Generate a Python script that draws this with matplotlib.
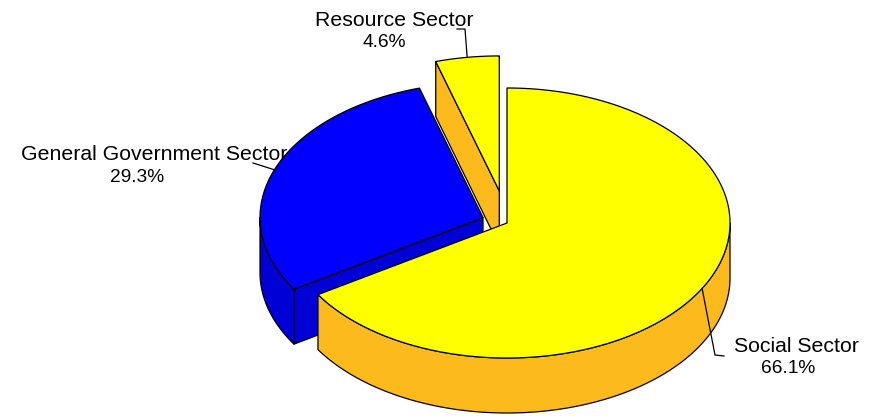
import numpy as np
import matplotlib
matplotlib.use("Agg")
import matplotlib.pyplot as plt
from matplotlib.patches import Polygon

# ---- data ----
sectors = ["Social Sector", "General Government Sector", "Resource Sector"]
shares = [66.1, 29.3, 4.6]
explode = [0.0, 0.115, 0.24]

# ---- style ----
top_colors = ["#FFFF00", "#0000FF", "#FFFF00"]
side_colors = ["#FDBA1C", "#0000D6", "#FDBA1C"]
CX, CY = 507.0, 223.0        # pie centre (pixel-like data coords)
RX, RY = 223.0, 135.0        # ellipse radii of top face
H = 55.0                     # thickness
START = 90.0                 # degrees, slices run clockwise

label_pos = {  # (x centre line1, baseline1, x centre line2, baseline2)
    "Social Sector": (796, 352, 788, 373),
    "General Government Sector": (154, 160, 137, 182),
    "Resource Sector": (394, 25.5, 384.5, 47),
}
leader_pts = {
    "Social Sector": [(715, 355), (724, 356)],
    "General Government Sector": [(253, 163)],
    "Resource Sector": [(465, 29), (457, 29)],
}

fig = plt.figure(figsize=(8.75, 4.16), dpi=100)
ax = fig.add_axes([0, 0, 1, 1])
ax.set_xlim(0, 875)
ax.set_ylim(416, 0)
ax.axis("off")

def P(c, a, dz=0.0, r=1.0):
    return (c[0] + RX * r * np.cos(a), c[1] - RY * r * np.sin(a) + dz)

total = sum(shares)
slices = []
ang = np.radians(START)
for name, v, ex, tc, sc in zip(sectors, shares, explode, top_colors, side_colors):
    span = 2 * np.pi * v / total
    a1 = ang                 # counter-clockwise end
    a0 = ang - span          # counter-clockwise start
    mid = 0.5 * (a0 + a1)
    c = (CX + RX * ex * np.cos(mid), CY - RY * ex * np.sin(mid))
    slices.append(dict(name=name, v=v, a0=a0, a1=a1, mid=mid, c=c, tc=tc, sc=sc))
    ang = a0

ekw = dict(edgecolor="black", linewidth=0.9, joinstyle="round")

# back to front
for s in sorted(slices, key=lambda s: -np.sin(s["mid"])):
    c, a0, a1 = s["c"], s["a0"], s["a1"]
    # outer wall on the front half (sin < 0)
    for k in range(-2, 2):
        lo = max(a0, np.pi + 2 * np.pi * k)
        hi = min(a1, 2 * np.pi + 2 * np.pi * k)
        if hi > lo:
            t = np.linspace(lo, hi, 200)
            top = [P(c, x) for x in t]
            bot = [P(c, x, H) for x in t[::-1]]
            ax.add_patch(Polygon(top + bot, closed=True, facecolor=s["sc"], **ekw))
    # radial faces
    for a, vis in ((a0, np.cos(a0) > 1e-6), (a1, np.cos(a1) < -1e-6)):
        if vis:
            poly = [(c[0], c[1]), P(c, a), P(c, a, H), (c[0], c[1] + H)]
            ax.add_patch(Polygon(poly, closed=True, facecolor=s["sc"], **ekw))
    # top face
    t = np.linspace(a0, a1, 300)
    poly = [(c[0], c[1])] + [P(c, x) for x in t]
    ax.add_patch(Polygon(poly, closed=True, facecolor=s["tc"], **ekw))

# labels and leaders
for s in slices:
    name = s["name"]
    x1, b1, x2, b2 = label_pos[name]
    ax.text(x1, b1, name, ha="center", va="baseline", fontsize=15.3,
            family="Liberation Sans", color="black")
    ax.text(x2, b2, f"{s['v']:.1f}%", ha="center", va="baseline", fontsize=13.8,
            family="Liberation Sans", color="black")
    start = P(s["c"], s["mid"])
    pts = [start] + leader_pts[name]
    ax.plot([p[0] for p in pts], [p[1] for p in pts], color="black", lw=0.9)

fig.savefig("out.png", dpi=100)
